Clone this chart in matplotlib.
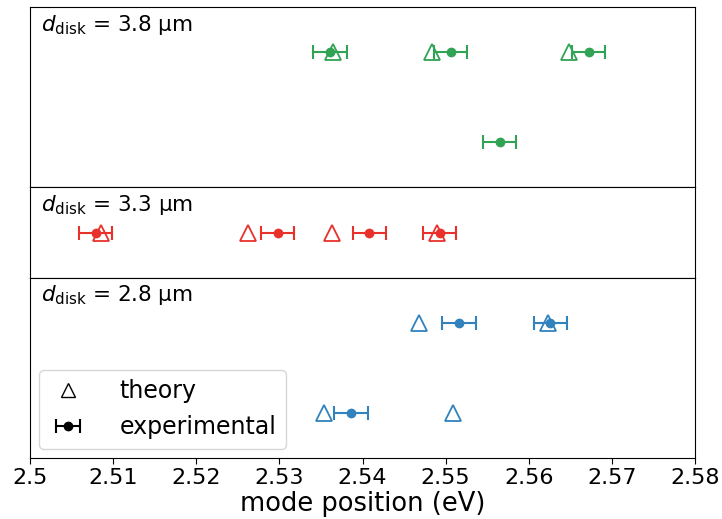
import matplotlib.pyplot as plt
import numpy as np
from matplotlib.lines import Line2D

# mode energies (eV), per disk diameter; row index = vertical slot in panel
green = '#31a354'
red = '#e8312a'
blue = '#3182bd'

# d = 3.8 um
th38 = [2.5365, 2.5484, 2.5648]
th38_row = [1.5, 1.5, 1.5]
ex38 = [2.5361, 2.5506, 2.5672, 2.5565]
ex38_row = [1.5, 1.5, 1.5, 0.5]

# d = 3.3 um
th33 = [2.5085, 2.5262, 2.5363, 2.5490]
th33_row = [0.5, 0.5, 0.5, 0.5]
ex33 = [2.5079, 2.5298, 2.5408, 2.5493]
ex33_row = [0.5, 0.5, 0.5, 0.5]

# d = 2.8 um
th28 = [2.5468, 2.5623, 2.5354, 2.5509]
th28_row = [1.5, 1.5, 0.5, 0.5]
ex28 = [2.5516, 2.5626, 2.5386]
ex28_row = [1.5, 1.5, 0.5]

err = 0.002

panels = [
    ('3.8', green, th38, th38_row, ex38, ex38_row, 2),
    ('3.3', red, th33, th33_row, ex33, ex33_row, 1),
    ('2.8', blue, th28, th28_row, ex28, ex28_row, 2),
]

fig, axes = plt.subplots(3, 1, figsize=(7.22, 5.19), dpi=100, sharex=True,
                         gridspec_kw={'height_ratios': [2, 1, 2], 'hspace': 0})
fig.subplots_adjust(left=0.0416, right=0.9626, top=0.9865, bottom=0.1175)

for ax, (d, c, th, thr, ex, exr, nrow) in zip(axes, panels):
    ax.errorbar(ex, exr, xerr=err, fmt='o', color=c, ms=6, capsize=5,
                elinewidth=1.5, capthick=1.5)
    ax.plot(th, thr, '^', ms=12, mfc='none', mec=c, mew=1.3, ls='none')
    ax.set_ylim(0, nrow)
    ax.set_yticks([])
    ax.annotate(r'$d_{\mathrm{disk}}$ = ' + d + ' µm', xy=(0, 1), xycoords='axes fraction',
                xytext=(8, -4), textcoords='offset points',
                fontsize=15.5, va='top', ha='left')
    ax.tick_params(axis='x', length=0)

axes[-1].tick_params(axis='x', length=4, labelsize=16)
axes[-1].set_xlim(2.5, 2.58)
xt = [2.5, 2.51, 2.52, 2.53, 2.54, 2.55, 2.56, 2.57, 2.58]
axes[-1].set_xticks(xt)
axes[-1].set_xticklabels(['2.5', '2.51', '2.52', '2.53', '2.54', '2.55', '2.56', '2.57', '2.58'])
axes[-1].set_xlabel('mode position (eV)', fontsize=18.5, labelpad=2)

h_th = Line2D([], [], marker='^', ms=10, mfc='none', mec='k', ls='none')
h_ex = axes[-1].errorbar([np.nan], [np.nan], xerr=[0.002], fmt='o', color='k',
                         ms=6, capsize=5, elinewidth=1.5, capthick=1.5)
axes[-1].legend([h_th, h_ex], ['theory', 'experimental'], loc='lower left',
                fontsize=17, handlelength=1.6, handletextpad=1.4, borderaxespad=0.4)

plt.savefig('out.png')
